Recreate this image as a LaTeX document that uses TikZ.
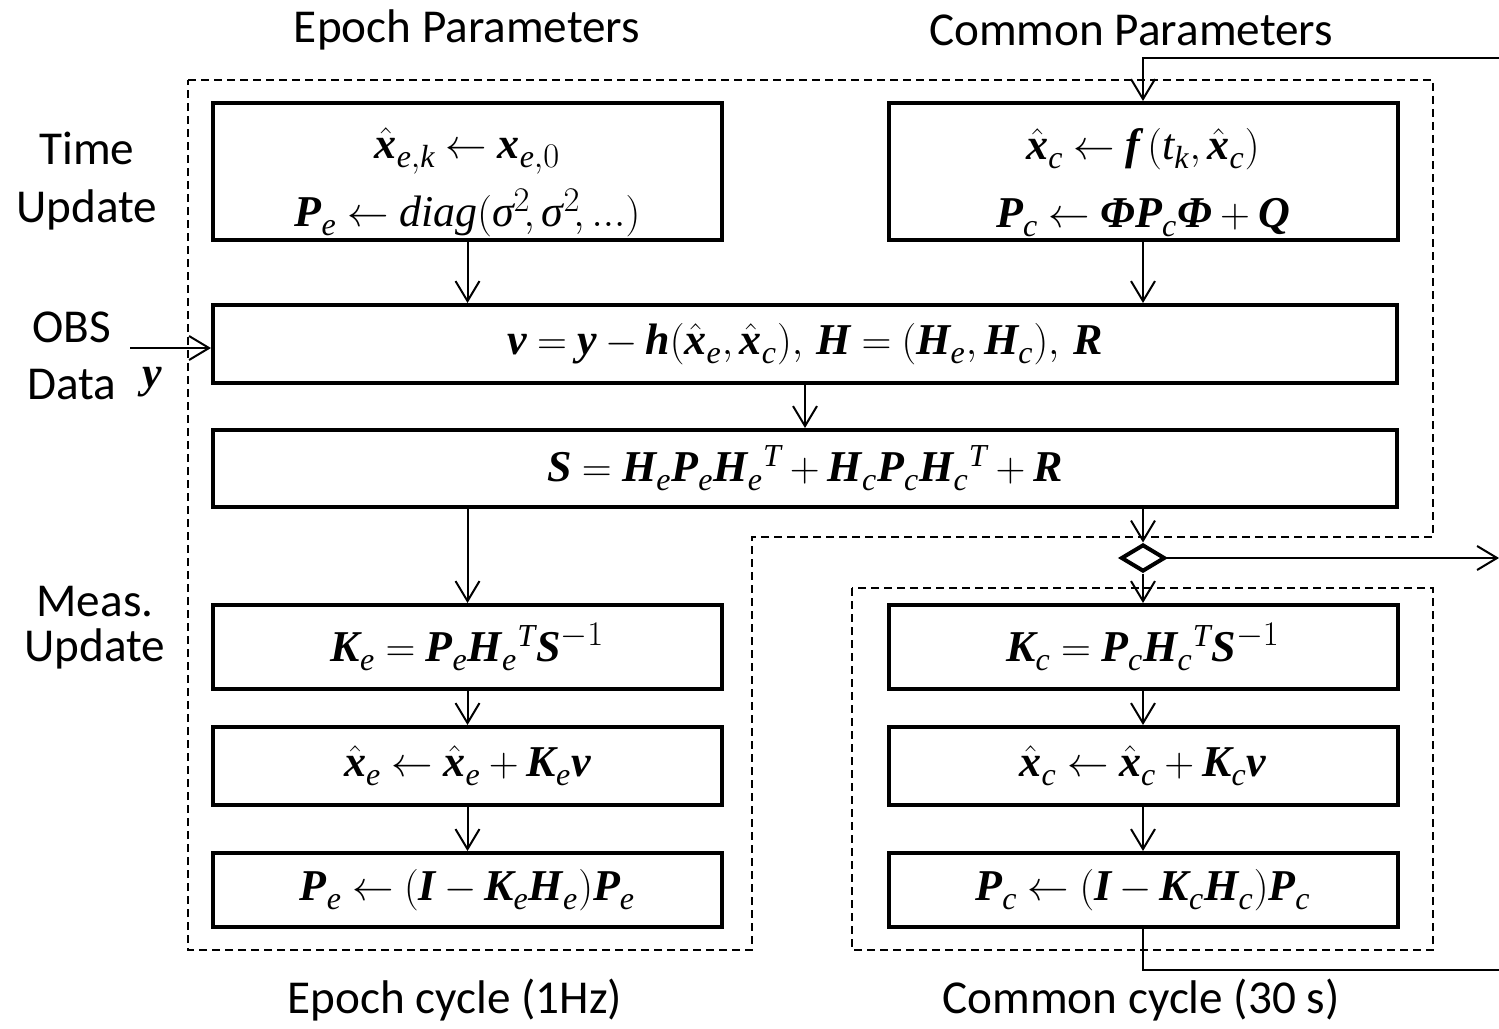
\documentclass[tikz,border=0pt]{standalone}
\usepackage{amsmath}
\usepackage{fontspec}
\setmainfont{Liberation Serif}
\newfontfamily\lblfont{Carlito}
\usetikzlibrary{arrows.meta,shapes.geometric}
\DeclareMathSizes{22}{22}{16}{12}

% bold italic (vectors/matrices) and italic (indices) letters
\newcommand\vb[1]{\text{\bfseries\itshape #1}}
\newcommand\vi[1]{\text{\itshape #1}}
% formula with tighter spacing and lowered subscripts
\newcommand\fml[1]{$\thickmuskip=4.5mu\medmuskip=3.5mu\thinmuskip=3mu
  \fontdimen16\textfont2=4.5pt\fontdimen17\textfont2=4.5pt #1$}

\begin{document}
\begin{tikzpicture}[x=0.5pt,y=-0.5pt,
  box/.style={draw,line width=2pt,inner sep=0pt,align=center,
    font=\fontsize{22}{34}\selectfont},
  halfbox/.style={box,minimum width=254.5pt},
  fullbox/.style={box,minimum width=592pt},
  flow/.style={line width=1pt,-{Straight Barb[length=10pt,width=12pt,line width=1pt]}},
  plain/.style={line width=1pt},
  group/.style={line width=1pt,dash pattern=on 4pt off 2.5pt},
  lbl/.style={font=\lblfont\fontsize{23.6}{29}\selectfont,align=center},
  decide/.style={diamond,draw,line width=2pt,inner sep=0pt,
    minimum width=22pt,minimum height=13.5pt},
]
\useasboundingbox (0,0) rectangle (1499,1028);

% dashed groups: epoch cycle and common cycle
\draw[group] (188,80) -- (1433,80) -- (1433,537) -- (752,537) -- (752,950)
  -- (188,950) -- cycle;
\draw[group] (852,588) rectangle (1433,950);

% time update
\node[halfbox,minimum height=68.5pt] (te) at (467.5,171.5)
  {\rule{0pt}{26.5pt}\fml{\hat{\vb{x}}_{\vi{e},\vi{k}} \leftarrow \vb{x}_{\vi{e},0}}\\
   \fml{\vb{P}_{\vi{e}} \leftarrow \vi{diag}(\vi{σ}^{2}\!,\vi{σ}^{2}\!,...)}};
\node[halfbox,minimum height=68.5pt] (tc) at (1143,171.5)
  {\rule{0pt}{26.5pt}\fml{\hat{\vb{x}}_{\vi{c}} \leftarrow \vb{f}\,(\vi{t}_{\vi{k}},\hat{\vb{x}}_{\vi{c}})}\\
   \fml{\vb{P}_{\vi{c}} \leftarrow \vb{Φ}\vb{P}_{\vi{c}}\vb{Φ}+\vb{Q}}};

% innovation and its covariance
\node[fullbox,minimum height=39pt] (v) at (805,344)
  {\fml{\vb{v}=\vb{y}-\vb{h}(\hat{\vb{x}}_{\vi{e}},\hat{\vb{x}}_{\vi{c}}),\,
    \vb{H}=(\vb{H}_{\vi{e}},\vb{H}_{\vi{c}}),\,\vb{R}}};
\node[fullbox,minimum height=38.5pt] (S) at (805,468.5)
  {\fml{\vb{S}=\vb{H}_{\vi{e}}\vb{P}_{\vi{e}}\vb{H}_{\vi{e}}{}^{\vi{T}}
    +\vb{H}_{\vi{c}}\vb{P}_{\vi{c}}\vb{H}_{\vi{c}}{}^{\vi{T}}+\vb{R}}};

% measurement update, epoch parameters
\node[halfbox,minimum height=42pt] (Ke) at (467.5,647)
  {\fml{\vb{K}_{\vi{e}}=\vb{P}_{\vi{e}}\vb{H}_{\vi{e}}{}^{\vi{T}}\vb{S}^{-1}}};
\node[halfbox,minimum height=39pt] (xe) at (467.5,766)
  {\fml{\hat{\vb{x}}_{\vi{e}}\leftarrow\hat{\vb{x}}_{\vi{e}}+\vb{K}_{\vi{e}}\vb{v}}};
\node[halfbox,minimum height=37pt] (Pe) at (467.5,890)
  {\fml{\vb{P}_{\vi{e}}\leftarrow(\vb{I}-\vb{K}_{\vi{e}}\vb{H}_{\vi{e}})\vb{P}_{\vi{e}}}};

% measurement update, common parameters
\node[halfbox,minimum height=42pt] (Kc) at (1143,647)
  {\fml{\vb{K}_{\vi{c}}=\vb{P}_{\vi{c}}\vb{H}_{\vi{c}}{}^{\vi{T}}\vb{S}^{-1}}};
\node[halfbox,minimum height=39pt] (xc) at (1143,766)
  {\fml{\hat{\vb{x}}_{\vi{c}}\leftarrow\hat{\vb{x}}_{\vi{c}}+\vb{K}_{\vi{c}}\vb{v}}};
\node[halfbox,minimum height=37pt] (Pc) at (1143,890)
  {\fml{\vb{P}_{\vi{c}}\leftarrow(\vb{I}-\vb{K}_{\vi{c}}\vb{H}_{\vi{c}})\vb{P}_{\vi{c}}}};

\node[decide] (dm) at (1143,558) {};

% free ends
\coordinate (fbin) at (1499,58);
\coordinate (obs) at (130,348);
\coordinate (out) at (1499,558);
\coordinate (fbout) at (1499,970);

% connectors
\draw[flow] (fbin) -| (tc.north);
\draw[flow] (te.south) -- (te.south |- v.north);
\draw[flow] (tc.south) -- (tc.south |- v.north);
\draw[flow] (obs) -- (obs -| v.west);
\draw[flow] (v.south) -- (S.north);
\draw[flow] (S.south -| Ke.north) -- (Ke.north);
\draw[flow] (S.south -| dm.north) -- (dm.north);
\draw[flow] (dm.east) -- (out);
\draw[flow] (dm.south) -- (Kc.north);
\draw[flow] (Ke.south) -- (xe.north);
\draw[flow] (xe.south) -- (Pe.north);
\draw[flow] (Kc.south) -- (xc.north);
\draw[flow] (xc.south) -- (Pc.north);
\draw[plain] (Pc.south) |- (fbout);

% labels
\node[lbl] (hEp) at (467,30) {Epoch Parameters};
\node[lbl] (hCp) at (1131,30) {Common Parameters};
\node[lbl] (lTu) at (87,181) {Time\\Update};
\node[lbl,font=\lblfont\fontsize{23.6}{28.5}\selectfont] (lObs) at (72,356) {OBS\\Data};
\node (ly) at (152,382) {\fontsize{22}{26}\selectfont\bfseries\itshape y};
\node[lbl,font=\lblfont\fontsize{23.6}{22.5}\selectfont] (lMu) at (95,628) {Meas.\\Update};
\node[lbl] (fEc) at (455,1000) {Epoch cycle (1Hz)};
\node[lbl] (fCc) at (1141,1000) {Common cycle (30 s)};
\end{tikzpicture}
\end{document}
